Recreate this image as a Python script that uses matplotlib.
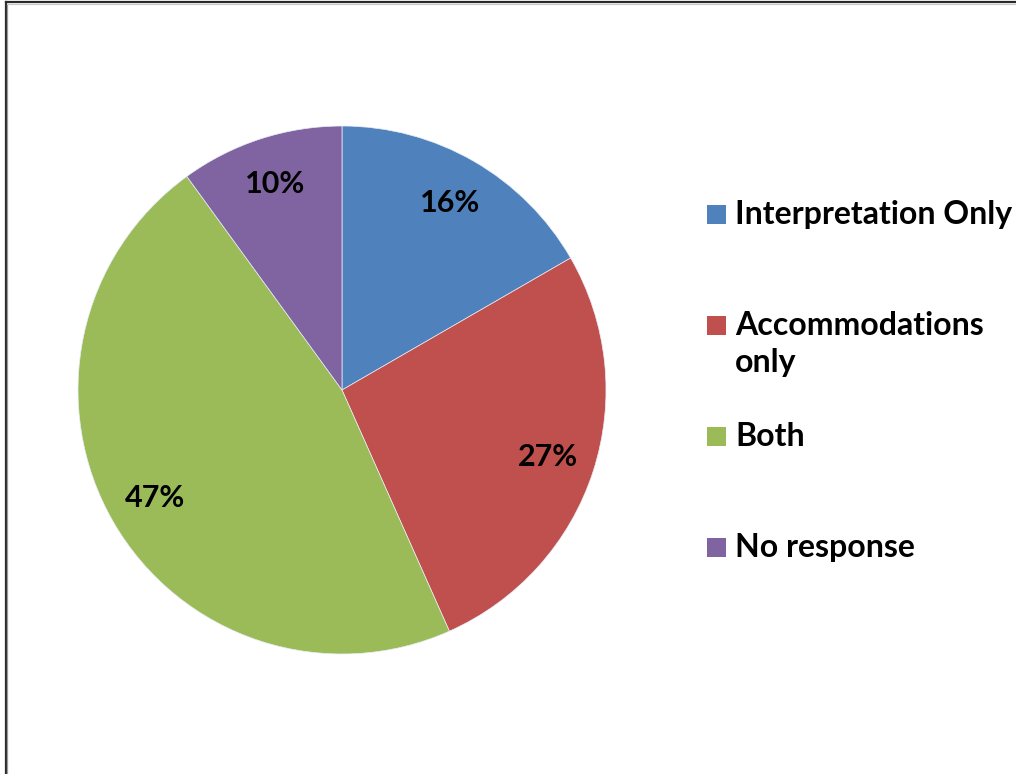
import matplotlib
matplotlib.use('Agg')
import matplotlib.pyplot as plt
from matplotlib.patches import Rectangle
from matplotlib.lines import Line2D

# Data (wedge sizes; printed labels as shown)
categories = ['Interpretation Only', 'Accommodations\nonly', 'Both', 'No response']
values = [5, 8, 14, 3]
pct_labels = ['16%', '27%', '47%', '10%']
colors = ['#4F81BD', '#C0504D', '#9BBB59', '#8064A2']

plt.rcParams['font.family'] = ['Lato', 'DejaVu Sans']

fig = plt.figure(figsize=(10.16, 7.74), dpi=100)
W, H = 1016, 774


def px(x, y):
    # pixel position (from top-left) -> figure fraction
    return x / W, 1 - y / H


# Chart area border (only left and top visible in the crop)
fig.add_artist(Line2D([5.5 / W, 5.5 / W], [0, 1 - 2 / H], color='#2a2a2a', lw=1.6, transform=fig.transFigure))
fig.add_artist(Line2D([5.5 / W, 1], [1 - 2 / H, 1 - 2 / H], color='#2a2a2a', lw=1.6, transform=fig.transFigure))
fig.add_artist(Line2D([7 / W, 7 / W], [0, 1 - 3.5 / H], color='#9a9a9a', lw=0.9, transform=fig.transFigure))
fig.add_artist(Line2D([7 / W, 1], [1 - 3.5 / H, 1 - 3.5 / H], color='#c8c8c8', lw=0.8, transform=fig.transFigure))

# Pie axes: centre (342, 390), radius 264 px
cx, cy, r = 342, 390, 264
ax = fig.add_axes([(cx - r) / W, (H - cy - r) / H, 2 * r / W, 2 * r / H])
wedges, texts = ax.pie(values, colors=colors, startangle=90, counterclock=False, radius=1,
                       labels=pct_labels, labeldistance=0.82,
                       wedgeprops=dict(edgecolor='#e8eef5', linewidth=0.5),
                       textprops=dict(fontsize=22, fontweight='bold', color='black'))
for t in texts:
    t.set_horizontalalignment('center')
    t.set_verticalalignment('center')
ax.set_xlim(-1, 1)
ax.set_ylim(-1, 1)
ax.set_aspect('equal')
ax.axis('off')

# Legend, laid out like the original
row_y = [224, 335, 446, 557]  # baseline of first text line / bottom of square
line_h = 37
sq = 19
for lab, c, y in zip(categories, colors, row_y):
    x0, y0 = px(707, y)
    fig.patches.append(Rectangle((x0, y0), sq / W, sq / H, transform=fig.transFigure,
                                 facecolor=c, edgecolor='none'))
    # va='baseline' anchors the last line, so shift down for wrapped labels
    tx, ty = px(735, y + lab.count('\n') * line_h)
    fig.text(tx, ty, lab, fontsize=23, fontweight='bold', va='baseline', ha='left',
             linespacing=1.33)

fig.savefig('out.png', dpi=100)
